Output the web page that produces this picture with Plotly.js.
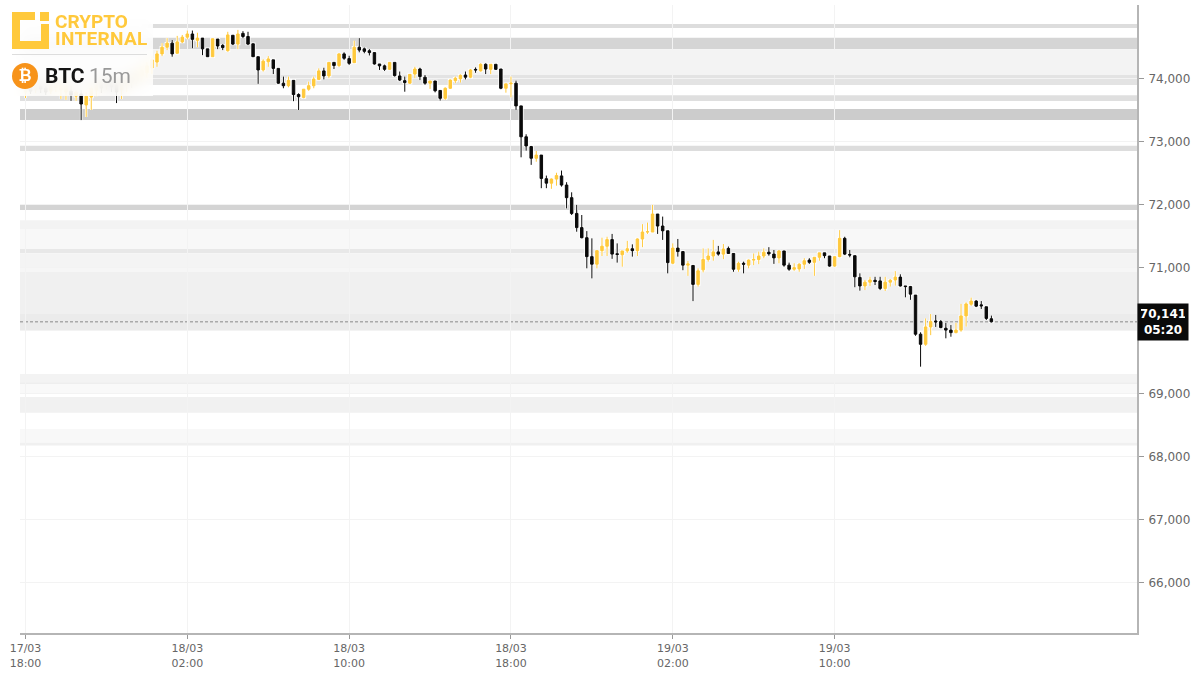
<!DOCTYPE html>
<html>
<head>
<meta charset="utf-8">
<script src="https://cdn.plot.ly/plotly-3.0.1.min.js"></script>
<style>
  html, body { margin: 0; padding: 0; background: #fff; }
  #chart { width: 1200px; height: 677px; }
  #badge {
    position: absolute; left: 0; top: 0; width: 153px; height: 96px;
    background: rgba(255,255,255,0.82);
    -webkit-backdrop-filter: blur(7px); backdrop-filter: blur(7px);
    font-family: Roboto, sans-serif; pointer-events: none;
  }
  #badge svg { position: absolute; left: 12px; top: 12px; }
  #badge .brand { position: absolute; left: 55px; color: #ffc93c; font-weight: 700; font-size: 19px; line-height: 17px; }
  #badge hr { position: absolute; left: 12px; top: 54px; width: 135px; margin: 0; border: 0; border-top: 1px solid #ddd; }
  #badge .coin {
    position: absolute; left: 12px; top: 63px; width: 26px; height: 26px; border-radius: 13px;
    background: #f7931a; color: #fff; text-align: center; line-height: 26px;
    font-family: "DejaVu Sans", sans-serif; font-weight: 700; font-size: 16px;
  }
  #badge .sym { position: absolute; left: 45px; top: 64px; font-size: 21px; line-height: 24px; font-weight: 700; color: #151515; }
  #badge .tf { position: absolute; left: 89px; top: 64px; font-size: 21px; line-height: 24px; color: #999; }
</style>
</head>
<body>
<div id="chart"></div>
<div id="badge">
  <svg width="37" height="37" viewBox="0 0 37 37">
    <path d="M0 0H23V8H8V29H29V12H37V37H0Z" fill="#ffc93c"/>
    <rect x="28" y="0" width="9" height="9" fill="#ffc93c"/>
  </svg>
  <div class="brand" style="top:13px">CRYPTO</div>
  <div class="brand" style="top:30px;letter-spacing:.35px">INTERNAL</div>
  <hr>
  <div class="coin">₿</div>
  <div class="sym">BTC</div>
  <div class="tf">15m</div>
</div>
<script>
// 15m bars, one row = ten bars
var opens = [
  73785,73865,73820,73880,73850,73800,73850,73820,73785,73800,
  73720,73755,73580,73705,73820,73930,73895,73960,73895,73820,
  73895,74025,73975,74040,74090,74165,74260,74390,74495,74560,
  74400,74580,74655,74705,74605,74640,74470,74345,74625,74525,
  74440,74685,74545,74715,74665,74550,74345,74135,74265,74295,
  74160,73925,73885,73970,73745,73700,73830,73885,73985,74120,
  74040,74255,74205,74390,74315,74250,74495,74470,74440,74410,
  74230,74200,74145,74255,74040,73965,73925,74070,74150,74020,
  73925,73960,73810,73685,73845,73965,73995,74055,74020,74145,
  74120,74225,74145,74225,74150,73845,73915,73925,73565,73075,
  72920,72735,72785,72410,72340,72405,72455,72310,72110,71860,
  71635,71475,71175,71055,71270,71340,71445,71220,71205,71265,
  71300,71270,71455,71565,71565,71850,71660,71585,71070,71310,
  71255,71040,71035,70735,70965,71130,71185,71250,71215,71305,
  71225,70975,71070,71040,71120,71130,71185,71245,71215,71155,
  71265,71040,70975,70980,71055,71120,71085,71165,71235,71185,
  71025,71175,71465,71210,71190,70845,70710,70770,70800,70790,
  70670,70770,70805,70850,70710,70700,70565,69945,69785,70060,
  70155,70145,70040,70010,69970,70010,70235,70420,70470,70410,
  70380,70190
];
var highs = [
  73880,73895,73930,73910,73880,73910,73945,73930,73910,73880,
  73820,73820,73785,73895,73945,73975,74010,74010,73945,73975,
  74040,74070,74135,74200,74260,74355,74440,74560,74640,74610,
  74675,74690,74760,74760,74725,74640,74470,74630,74625,74545,
  74740,74685,74770,74750,74740,74550,74345,74305,74355,74295,
  74160,74030,74030,73970,73765,73830,73950,74030,74160,74170,
  74255,74255,74400,74415,74360,74600,74640,74490,74465,74410,
  74230,74220,74260,74255,74110,74030,74070,74185,74170,74055,
  73960,73960,73810,73860,73985,74030,74065,74110,74150,74175,
  74240,74240,74225,74225,74150,73915,74030,73965,73565,73115,
  72930,72850,72785,72460,72415,72505,72540,72355,72195,71995,
  71835,71580,71465,71270,71475,71490,71535,71385,71265,71425,
  71370,71465,71690,71715,71995,71850,71810,71585,71385,71455,
  71255,71105,71035,70990,71305,71305,71440,71345,71375,71335,
  71225,71095,71095,71130,71225,71255,71305,71325,71280,71280,
  71265,71080,71070,71070,71150,71150,71165,71235,71235,71185,
  71175,71595,71490,71280,71190,70910,70805,70855,70855,70855,
  70855,70820,70945,70895,70710,70710,70565,69975,70195,70265,
  70250,70170,70125,70090,70125,70425,70450,70525,70485,70470,
  70380,70240
];
var lows = [
  73690,73755,73770,73770,73740,73755,73785,73675,73660,73645,
  73645,73340,73390,73500,73720,73770,73820,73785,73610,73675,
  73785,73850,73880,73945,74010,74070,74185,74355,74450,74345,
  74390,74560,74620,74480,74495,74370,74345,74345,74465,74450,
  74425,74530,74465,74640,74530,74345,73915,74110,74185,74070,
  73915,73845,73860,73640,73500,73685,73805,73845,73975,73985,
  74005,74150,74180,74295,74215,74250,74415,74400,74365,74220,
  74135,74120,74135,74030,73960,73790,73915,74005,73975,73900,
  73835,73780,73650,73660,73835,73925,73935,73985,74005,74090,
  74110,74070,74070,74135,73830,73775,73700,73500,72750,72855,
  72630,72680,72260,72260,72250,72300,72285,71940,71835,71570,
  71465,70990,70830,70990,71185,71185,71140,71080,71015,71235,
  71175,71185,71325,71535,71565,71535,71440,70910,71055,71175,
  70960,70870,70470,70700,70925,71095,71110,71190,71135,71225,
  70935,70935,70910,70990,71040,71055,71150,71190,71060,71070,
  71015,70950,70950,70935,70980,71060,70870,71110,71150,71015,
  71015,71165,71200,71165,70690,70635,70645,70710,70725,70645,
  70630,70700,70715,70700,70530,70490,69920,69430,69760,69930,
  70060,70040,69880,69905,69960,69985,70065,70395,70375,70345,
  70170,70130
];
var closes = [
  73850,73800,73895,73835,73785,73880,73910,73895,73880,73740,
  73785,73595,73720,73850,73910,73850,73975,73865,73785,73930,
  73990,73945,74090,74135,74200,74295,74390,74495,74560,74390,
  74580,74655,74705,74620,74640,74470,74345,74630,74515,74490,
  74690,74545,74705,74665,74545,74345,74135,74275,74310,74160,
  73925,73885,73970,73745,73710,73830,73885,73990,74120,74040,
  74255,74205,74390,74320,74240,74495,74450,74430,74410,74230,
  74200,74145,74255,74045,73975,73935,74065,74150,74030,73925,
  73960,73805,73685,73845,73975,74005,74050,74020,74135,74135,
  74225,74150,74225,74145,73845,73915,73925,73565,73075,72930,
  72735,72785,72415,72340,72405,72460,72310,72110,71860,71635,
  71475,71175,71055,71270,71340,71445,71215,71210,71265,71300,
  71270,71455,71565,71570,71850,71660,71585,71080,71310,71255,
  71040,71060,70735,70950,71130,71185,71250,71215,71295,71225,
  70975,71070,71055,71120,71130,71185,71245,71220,71155,71265,
  71040,70975,71000,71055,71110,71085,71165,71235,71190,71025,
  71175,71465,71215,71200,70855,70710,70770,70805,70780,70670,
  70770,70800,70850,70710,70700,70580,69945,69785,70060,70145,
  70140,70050,70010,69970,70010,70235,70425,70470,70390,70395,
  70195,70141
];

// support / resistance zones, price from-to
var zoneLow  = [74801,74463,74056,73897,73643,73342,72850,71914,71613,71296,71228,71000,70931,70265,70011,69182,69155,69012,68700,68224,68182];
var zoneHigh = [74864,74647,74452,74056,73734,73516,72934,71994,71751,71613,71296,71228,71000,70931,70265,69313,69182,69155,68949,68441,68224];
var zoneFill = ['#dddddd','#d5d5d5','#f3f3f3','#e3e3e3','#dfdfdf','#cccccc','#dddddd','#d4d4d4','#f3f3f3','#f8f8f8','#e8e8e8','#f4f4f4','#f6f6f6','#f0f0f0','#ebebeb','#f3f3f3','#eeeeee','#f9f9f9','#f1f1f1','#f8f8f8','#f0f0f0'];

var priceTicks = [66000,67000,68000,69000,70000,71000,72000,73000,74000];
// 70,000 sits under the last price box
var priceLabels = ['66,000','67,000','68,000','69,000','','71,000','72,000','73,000','74,000'];
var timeTicks = [0,32,64,96,128,160];
var timeLabels = ['17/03<br>18:00','18/03<br>02:00','18/03<br>10:00','18/03<br>18:00','19/03<br>02:00','19/03<br>10:00'];
var lastPrice = 70141;
var countdown = '05:20';

var barIndex = opens.map(function(o, i){ return i; });
var YELLOW = '#ffc93c', BLACK = '#0a0a0a';

function candles(upLine, upFill, downLine, downFill, width){
    return {
        type: 'candlestick',
        x: barIndex, open: opens, high: highs, low: lows, close: closes,
        increasing: {line: {color: upLine, width: width}, fillcolor: upFill},
        decreasing: {line: {color: downLine, width: width}, fillcolor: downFill},
        whiskerwidth: 0,
        hoverinfo: 'skip',
        showlegend: false
    };
}

var zones = zoneLow.map(function(low, i){
    return {
        type: 'rect', layer: 'below', xref: 'paper', yref: 'y',
        x0: 0, x1: 1, y0: low, y1: zoneHigh[i],
        fillcolor: zoneFill[i], line: {width: 0}
    };
});
zones.push({
    type: 'line', layer: 'below', xref: 'paper', yref: 'y',
    x0: 0, x1: 1, y0: lastPrice, y1: lastPrice,
    line: {color: '#8a8a8a', width: 1, dash: '3px,2px'}
});

var layout = {
    width: 1200, height: 677,
    margin: {l: 20, r: 63, t: 5, b: 44, pad: 0},
    paper_bgcolor: '#fff', plot_bgcolor: '#fff',
    showlegend: false,
    boxmode: 'overlay',
    font: {family: '"DejaVu Sans", sans-serif', color: '#666'},
    xaxis: {
        type: 'linear',
        range: [-1.09, 219.8],
        rangeslider: {visible: false},
        tickmode: 'array', tickvals: timeTicks, ticktext: timeLabels,
        tickfont: {size: 11, color: '#666'},
        ticks: 'outside', ticklen: 4, tickcolor: '#999', tickwidth: 1,
        showline: true, linecolor: '#b5b5b5', linewidth: 2,
        showgrid: true, gridcolor: '#f3f3f3', gridwidth: 1, zeroline: false
    },
    yaxis: {
        side: 'right',
        range: [65207, 75165],
        tickmode: 'array', tickvals: priceTicks, ticktext: priceLabels,
        tickfont: {size: 12, color: '#666'},
        ticklabelstandoff: 2,
        ticks: 'outside', ticklen: 5, tickcolor: '#999', tickwidth: 1,
        showline: true, linecolor: '#b5b5b5', linewidth: 2,
        showgrid: true, gridcolor: '#f3f3f3', gridwidth: 1, zeroline: false
    },
    shapes: zones,
    annotations: [{
        xref: 'paper', yref: 'y', x: 1, y: lastPrice,
        xanchor: 'left', yanchor: 'middle', showarrow: false,
        align: 'center',
        text: '<b>' + lastPrice.toLocaleString('en-US') + '<br>' + countdown + '</b>',
        font: {family: '"DejaVu Sans", sans-serif', size: 12, color: '#fff'},
        bgcolor: '#0a0a0a', borderpad: 3, width: 44
    }]
};

Plotly.newPlot('chart', [
    candles('#fff', '#fff', '#fff', '#fff', 2.5),
    candles(YELLOW, YELLOW, BLACK, BLACK, 1)
], layout, {displayModeBar: false, staticPlot: true});
</script>
</body>
</html>
